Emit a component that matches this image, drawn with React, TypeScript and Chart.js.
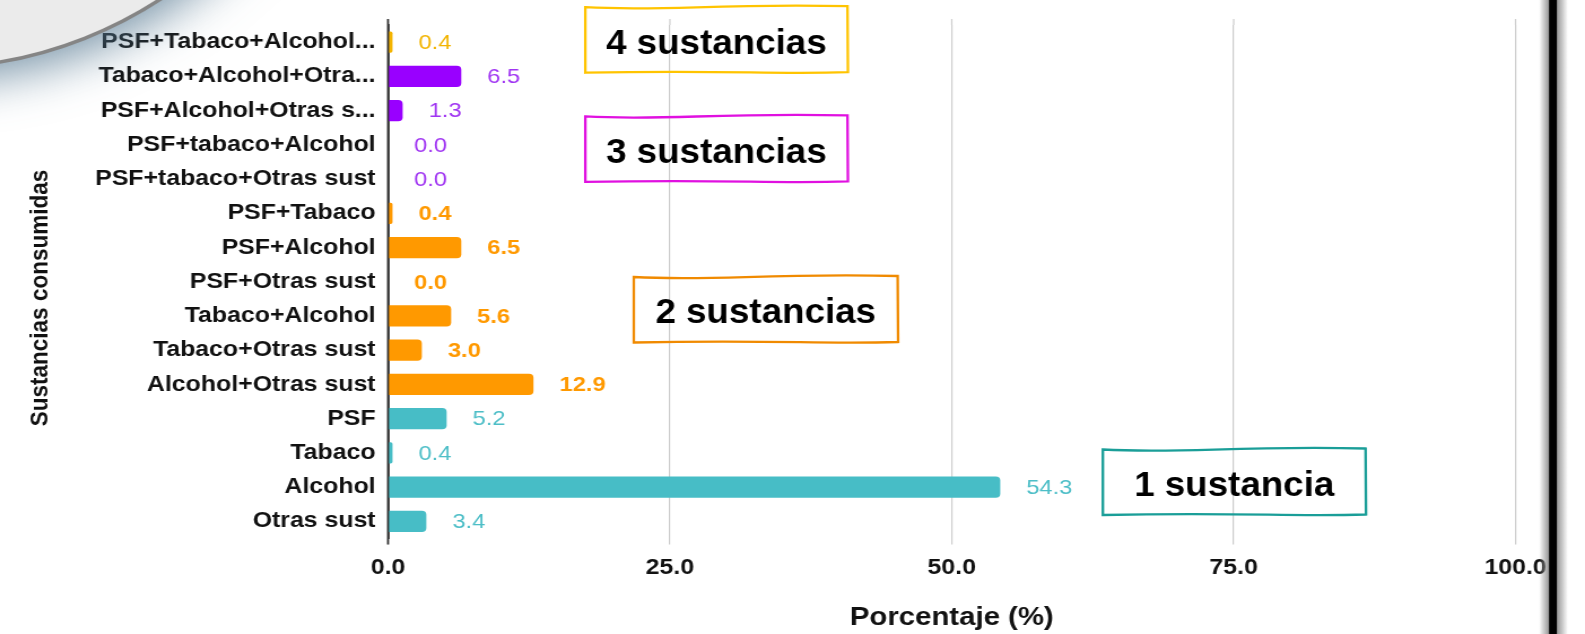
import React, { useEffect, useRef } from 'react';
import { Chart, registerables } from 'chart.js';

Chart.register(...registerables);

// ---------- data ----------
const categories = [
  'PSF+Tabaco+Alcohol...',
  'Tabaco+Alcohol+Otra...',
  'PSF+Alcohol+Otras s...',
  'PSF+tabaco+Alcohol',
  'PSF+tabaco+Otras sust',
  'PSF+Tabaco',
  'PSF+Alcohol',
  'PSF+Otras sust',
  'Tabaco+Alcohol',
  'Tabaco+Otras sust',
  'Alcohol+Otras sust',
  'PSF',
  'Tabaco',
  'Alcohol',
  'Otras sust',
];
const values = [0.4, 6.5, 1.3, 0.0, 0.0, 0.4, 6.5, 0.0, 5.6, 3.0, 12.9, 5.2, 0.4, 54.3, 3.4];
const substanceCount = [4, 3, 3, 3, 3, 2, 2, 2, 2, 2, 2, 1, 1, 1, 1];
const xTicks = [0, 25, 50, 75, 100];
const groupTexts = ['4 sustancias', '3 sustancias', '2 sustancias', '1 sustancia'];
const groupCounts = [4, 3, 2, 1];

const xTitle = 'Porcentaje (%)';
const yTitle = 'Sustancias consumidas';

// ---------- styles ----------
const FONT = "'Liberation Sans', Arial, Helvetica, sans-serif";
const S = 1585 / 1403; // horizontal stretch of the original picture
const barColors: Record<number, string> = { 1: '#47BDC6', 2: '#FF9900', 3: '#9900FF', 4: '#F4B400' };
const valueColors: Record<number, string> = { 1: '#4DBEC7', 2: '#FF9900', 3: '#A035F2', 4: '#F2B400' };
const boxColors: Record<number, string> = { 1: '#1A9E98', 2: '#F08A00', 3: '#E010E0', 4: '#FFC400' };
// annotation box placement: x range in axis units, y centre in category units
const boxXMin = [17.5, 17.5, 21.8, 63.4];
const boxXMax = [40.75, 40.75, 45.2, 86.7];
const boxYIdx = [-0.07, 3.12, 7.81, 12.85];

function wavyBox(ctx: CanvasRenderingContext2D, L: number, T: number, R: number, B: number) {
  const w = R - L;
  ctx.beginPath();
  ctx.moveTo(L, T + 0.5);
  ctx.bezierCurveTo(L + w * 0.3, T + 5, L + w * 0.5, T - 3.5, R, T - 0.5);
  ctx.lineTo(R + 0.4, B - 0.5);
  ctx.bezierCurveTo(R - w * 0.3, B + 2, L + w * 0.55, B - 3, L, B);
  ctx.closePath();
  ctx.stroke();
}

const decorPlugin = {
  id: 'decor',
  afterDatasetsDraw(chart: any) {
    const ctx: CanvasRenderingContext2D = chart.ctx;
    const xs = chart.scales.x;
    const area = chart.chartArea;
    ctx.save();
    // grid line extensions above the plot
    ctx.strokeStyle = '#cccccc';
    ctx.lineWidth = 1.2;
    xTicks.forEach((v) => {
      if (v === 0) return;
      const px = xs.getPixelForValue(v);
      ctx.beginPath();
      ctx.moveTo(px, 19);
      ctx.lineTo(px, area.top);
      ctx.stroke();
    });
    // axis line
    const x0 = xs.getPixelForValue(0);
    ctx.strokeStyle = '#333333';
    ctx.lineWidth = 1.8;
    ctx.beginPath();
    ctx.moveTo(x0, 19);
    ctx.lineTo(x0, area.bottom + 6);
    ctx.stroke();

    // value labels
    const meta = chart.getDatasetMeta(0);
    ctx.textAlign = 'left';
    ctx.textBaseline = 'middle';
    meta.data.forEach((bar: any, i: number) => {
      const g = substanceCount[i];
      ctx.font = (g === 2 ? 'bold ' : '') + '21px ' + FONT;
      ctx.fillStyle = valueColors[g];
      ctx.fillText(values[i].toFixed(1), bar.x + 23, bar.y + 1);
    });
    ctx.restore();
  },
  afterDraw(chart: any) {
    const ctx: CanvasRenderingContext2D = chart.ctx;
    const xs = chart.scales.x;
    const ys = chart.scales.y;
    ctx.save();

    // annotation boxes
    groupTexts.forEach((t, i) => {
      const L = xs.getPixelForValue(boxXMin[i]);
      const R = xs.getPixelForValue(boxXMax[i]);
      const cy = ys.getPixelForValue(boxYIdx[i]);
      const T = cy - 33;
      const B = cy + 33;
      ctx.strokeStyle = boxColors[groupCounts[i]];
      ctx.lineWidth = 2.3;
      wavyBox(ctx, L, T, R, B);
      ctx.save();
      ctx.translate((L + R) / 2, cy + 14);
      ctx.scale(1.05 / S, 1);
      ctx.font = 'bold 35px ' + FONT;
      ctx.fillStyle = '#000000';
      ctx.textAlign = 'center';
      ctx.textBaseline = 'alphabetic';
      ctx.fillText(t, 0, 0);
      ctx.restore();
    });

    // y-axis title
    ctx.save();
    ctx.translate(40 / S, 298);
    ctx.rotate(-Math.PI / 2);
    ctx.font = 'bold 22.5px ' + FONT;
    ctx.fillStyle = '#111111';
    ctx.textAlign = 'center';
    ctx.textBaseline = 'middle';
    ctx.fillText(yTitle, 0, 0);
    ctx.restore();

    // decorative disc, top-left
    ctx.save();
    ctx.beginPath();
    ctx.ellipse(-71 / S, -355, 423 / S, 423, 0, 0, Math.PI * 2);
    ctx.shadowColor = 'rgba(85,120,145,0.8)';
    ctx.shadowBlur = 48;
    ctx.shadowOffsetX = 4;
    ctx.shadowOffsetY = 12;
    ctx.fillStyle = '#ebebeb';
    ctx.fill();
    ctx.shadowColor = 'rgba(0,0,0,0)';
    ctx.lineWidth = 3.5;
    ctx.strokeStyle = '#858585';
    ctx.stroke();
    ctx.restore();

    // black frame edge on the right
    const H = chart.height;
    const gl = ctx.createLinearGradient(1539 / S, 0, 1549 / S, 0);
    gl.addColorStop(0, 'rgba(150,150,150,0)');
    gl.addColorStop(1, 'rgba(150,150,150,1)');
    ctx.fillStyle = gl;
    ctx.fillRect(1539 / S, 0, 10 / S, H);
    const gr = ctx.createLinearGradient(1557 / S, 0, 1568 / S, 0);
    gr.addColorStop(0, 'rgba(150,150,150,1)');
    gr.addColorStop(1, 'rgba(150,150,150,0)');
    ctx.fillStyle = gr;
    ctx.fillRect(1557 / S, 0, 11 / S, H);
    ctx.fillStyle = '#000000';
    ctx.fillRect(1549 / S, 0, 8 / S, H);

    ctx.restore();
  },
};

export default function App() {
  const ref = useRef<HTMLCanvasElement | null>(null);

  useEffect(() => {
    if (!ref.current) return;
    const chart = new Chart(ref.current, {
      type: 'bar',
      data: {
        labels: categories,
        datasets: [
          {
            data: values,
            backgroundColor: substanceCount.map((g) => barColors[g]),
            borderRadius: 4,
            barPercentage: 0.62,
            categoryPercentage: 1.0,
          },
        ],
      },
      options: {
        indexAxis: 'y',
        responsive: false,
        animation: false,
        devicePixelRatio: 1,
        layout: { padding: { top: 25, right: 61.5, left: 0, bottom: 0 } },
        plugins: {
          legend: { display: false },
          tooltip: { enabled: false },
          title: { display: false },
        },
        scales: {
          x: {
            type: 'linear',
            min: 0,
            max: 100,
            afterBuildTicks: (scale: any) => {
              scale.ticks = xTicks.map((v) => ({ value: v }));
            },
            afterFit: (scale: any) => {
              scale.height = 95.5;
            },
            grid: { color: '#cccccc', lineWidth: 1.2, tickLength: 6, drawTicks: true },
            border: { display: false },
            ticks: {
              autoSkip: false,
              maxRotation: 0,
              padding: 10,
              color: '#111111',
              font: { family: FONT, size: 22, weight: 'bold' },
              callback: (v: any) => Number(v).toFixed(1),
            },
            title: {
              display: true,
              text: xTitle,
              color: '#111111',
              font: { family: FONT, size: 26, weight: 'bold', lineHeight: 1.2 },
              padding: { top: 0, bottom: 1 },
            },
          },
          y: {
            type: 'category',
            afterFit: (scale: any) => {
              scale.width = 343.45;
            },
            grid: { display: false, drawTicks: false },
            border: { display: true, color: '#333333', width: 1.8 },
            ticks: {
              padding: 11,
              color: '#111111',
              font: { family: FONT, size: 22, weight: 'bold' },
            },
            title: { display: false },
          },
        },
      },
      plugins: [decorPlugin],
    } as any);
    return () => chart.destroy();
  }, []);

  return (
    <div
      style={{
        position: 'fixed',
        left: 0,
        top: 0,
        width: 1585,
        height: 634,
        overflow: 'hidden',
        background: '#ffffff',
      }}
    >
      <canvas
        ref={ref}
        width={1403}
        height={634}
        style={{ width: '1585px', height: '634px', display: 'block' }}
      />
    </div>
  );
}
